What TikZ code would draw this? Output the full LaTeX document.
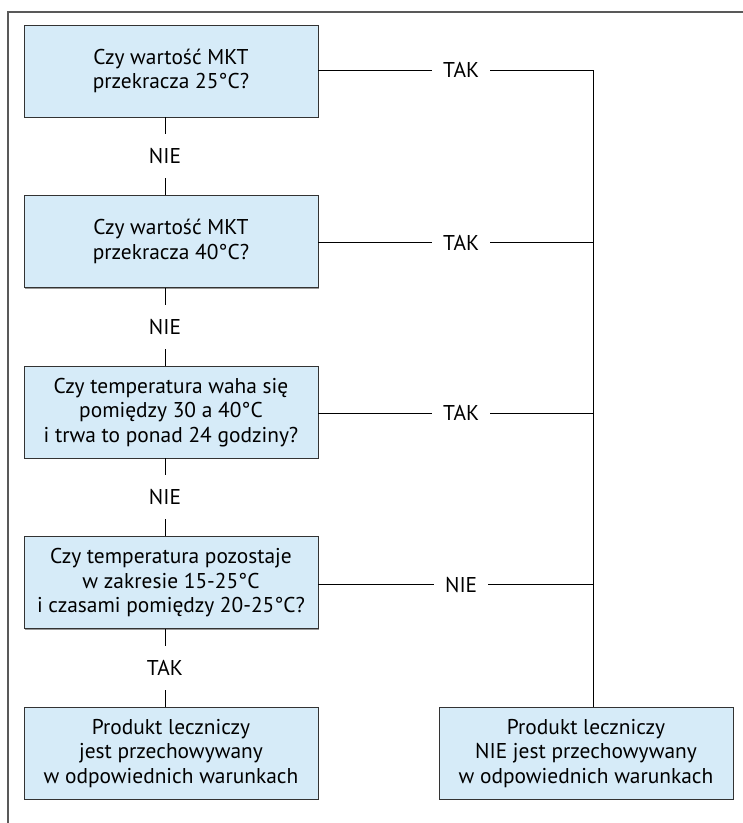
\documentclass[tikz,border=0pt]{standalone}
\usepackage{fontspec}
\setmainfont{PT Sans}
\usepackage{xcolor}
\usetikzlibrary{shapes,arrows,shadows}
\definecolor{boxblue}{HTML}{D6EBF8}

\begin{document}
\begin{tikzpicture}[x=1pt, y=1pt, semithick, node distance=170.6pt,
    box/.style={draw=black!80, fill=boxblue, minimum width=294pt, minimum height=92pt,
      align=center, font=\fontsize{21.4}{24.5}\selectfont,
      drop shadow={shadow xshift=1pt, shadow yshift=-1pt, fill=black!50, opacity=0.8}},
    answer/.style={fill=white, inner xsep=11pt, minimum height=44pt, font=\fontsize{21.4}{24}\selectfont}]

  \useasboundingbox (0,0) rectangle (743,823);
  \draw[black!65, line width=1.2pt] (8,0) -- (8,811) -- (743,811);

  \node[box] (q1) at (171,752) {Czy wartość MKT\\przekracza 25°C?};
  \node[box] (q2) [below of=q1] {Czy wartość MKT\\przekracza 40°C?};
  \node[box] (q3) [below of=q2] {Czy temperatura waha się\\pomiędzy 30 a 40°C\\i trwa to ponad 24 godziny?};
  \node[box] (q4) [below of=q3] {Czy temperatura pozostaje\\w zakresie 15-25°C\\i czasami pomiędzy 20-25°C?};
  \node[box] (ok) [below of=q4] {Produkt leczniczy\\jest przechowywany\\w odpowiednich warunkach};
  \node[box] (notok) [right of=ok, node distance=415pt] {Produkt leczniczy\\NIE jest przechowywany\\w odpowiednich warunkach};

  \coordinate (bus) at ([xshift=7pt]notok.north);

  % left column
  \draw ([xshift=-6pt]q1.south) -- node[answer] {NIE} ([xshift=-6pt]q2.north);
  \draw ([xshift=-6pt]q2.south) -- node[answer] {NIE} ([xshift=-6pt]q3.north);
  \draw ([xshift=-6pt]q3.south) -- node[answer] {NIE} ([xshift=-6pt]q4.north);
  \draw ([xshift=-6pt]q4.south) -- node[answer] {TAK} ([xshift=-6pt]ok.north);

  % right column
  \draw ([yshift=1pt]q1.east) -- node[answer, pos=0.52] {TAK} ([yshift=1pt]q1.east -| bus) -- (bus);
  \draw ([yshift=-1pt]q2.east) -- node[answer, pos=0.52] {TAK} ([yshift=-1pt]q2.east -| bus);
  \draw ([yshift=-1pt]q3.east) -- node[answer, pos=0.52] {TAK} ([yshift=-1pt]q3.east -| bus);
  \draw ([yshift=-2pt]q4.east) -- node[answer, pos=0.52] {NIE} ([yshift=-2pt]q4.east -| bus);
\end{tikzpicture}
\end{document}
